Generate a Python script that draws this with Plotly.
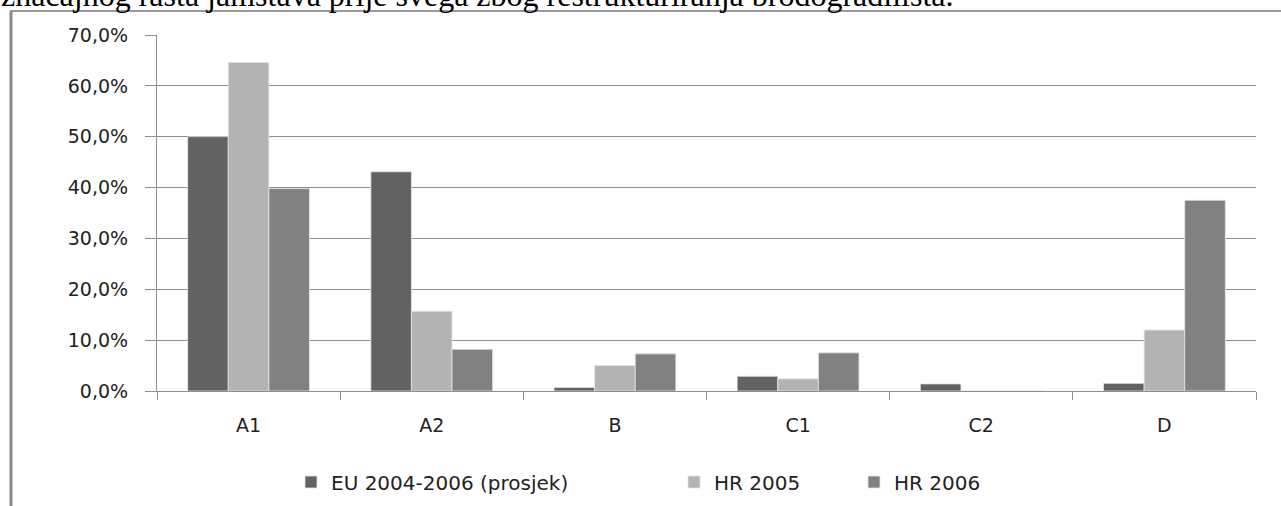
import plotly.graph_objects as go

categories = ["A1", "A2", "B", "C1", "C2", "D"]
eu_avg = [50.0, 43.1, 0.7, 2.9, 1.4, 1.5]
hr_2005 = [64.6, 15.7, 5.0, 2.4, 0.0, 12.0]
hr_2006 = [39.8, 8.2, 7.3, 7.5, 0.0, 37.5]
series_names = ["EU 2004-2006 (prosjek)", "HR 2005", "HR 2006"]
series_colors = ["#626262", "#b3b3b3", "#818181"]
y_ticks = [0, 10, 20, 30, 40, 50, 60, 70]
y_tick_labels = ["0,0%", "10,0%", "20,0%", "30,0%", "40,0%", "50,0%", "60,0%", "70,0%"]
top_text = "značajnog rasta jamstava prije svega zbog restrukturiranja brodogradilišta."

W, H = 1281, 506
ML, MR, MT, MB = 157, 25, 35, 115
PW, PH = W - ML - MR, H - MT - MB


def px_x(px):
    return (px - ML) / PW


def px_y(py):
    return (H - MB - py) / PH


legend_ids = ["legend", "legend2", "legend3"]
legend_symbol_x = [316, 699, 879]

fig = go.Figure()
for name, vals, col, lid in zip(series_names, [eu_avg, hr_2005, hr_2006], series_colors, legend_ids):
    fig.add_trace(go.Bar(
        x=categories, y=vals, name=name, legend=lid,
        marker=dict(color=col, line=dict(color="#e6e6e6", width=0.8)),
    ))

axis_gray = "#8e8e8e"
font_family = "DejaVu Sans"
txt_color = "#222222"

legend_common = dict(
    orientation="h", yanchor="middle", y=px_y(482), xanchor="left",
    font=dict(family=font_family, size=20, color=txt_color),
    itemwidth=30, bgcolor="rgba(0,0,0,0)", borderwidth=0,
)
legends = {}
for lid, sx in zip(legend_ids, legend_symbol_x):
    legends[lid] = dict(legend_common, x=px_x(sx - 25))

fig.update_layout(
    width=W, height=H,
    margin=dict(l=ML, r=MR, t=MT, b=MB, pad=0, autoexpand=False),
    paper_bgcolor="white", plot_bgcolor="white",
    barmode="group", bargap=0.335, bargroupgap=0,
    font=dict(family=font_family, size=19, color=txt_color),
    showlegend=True,
    xaxis=dict(
        type="category", showline=True, linecolor=axis_gray, linewidth=1.2,
        ticks="outside", tickson="boundaries", ticklen=8, tickcolor=axis_gray,
        tickwidth=1.2, showgrid=False, ticklabelstandoff=17,
        tickfont=dict(family=font_family, size=19, color=txt_color),
    ),
    yaxis=dict(
        range=[0, 70], tickvals=y_ticks, ticktext=y_tick_labels,
        showline=True, linecolor=axis_gray, linewidth=1.2,
        ticks="outside", ticklen=11, tickcolor=axis_gray, tickwidth=1.2,
        showgrid=True, gridcolor=axis_gray, gridwidth=1.2,
        zeroline=False, ticklabelstandoff=13,
        tickfont=dict(family=font_family, size=19, color=txt_color),
    ),
    shapes=[
        dict(type="line", xref="paper", yref="paper",
             x0=px_x(11), x1=px_x(11), y0=px_y(11), y1=px_y(560),
             line=dict(color="#8a8a8a", width=3)),
        dict(type="line", xref="paper", yref="paper",
             x0=px_x(10), x1=px_x(1320), y0=px_y(11), y1=px_y(11),
             line=dict(color="#9a9a9a", width=2)),
    ],
    annotations=[
        dict(text=top_text, xref="paper", yref="paper",
             x=px_x(-1), xanchor="left", y=px_y(-5), yanchor="middle",
             showarrow=False,
             font=dict(family="Liberation Serif", size=32, color="#000000")),
    ],
)
fig.update_layout(**legends)

fig.write_html(
    "out.html",
    config={"displayModeBar": False},
    post_script="document.body.style.margin='0px';document.body.style.overflow='hidden';",
)
